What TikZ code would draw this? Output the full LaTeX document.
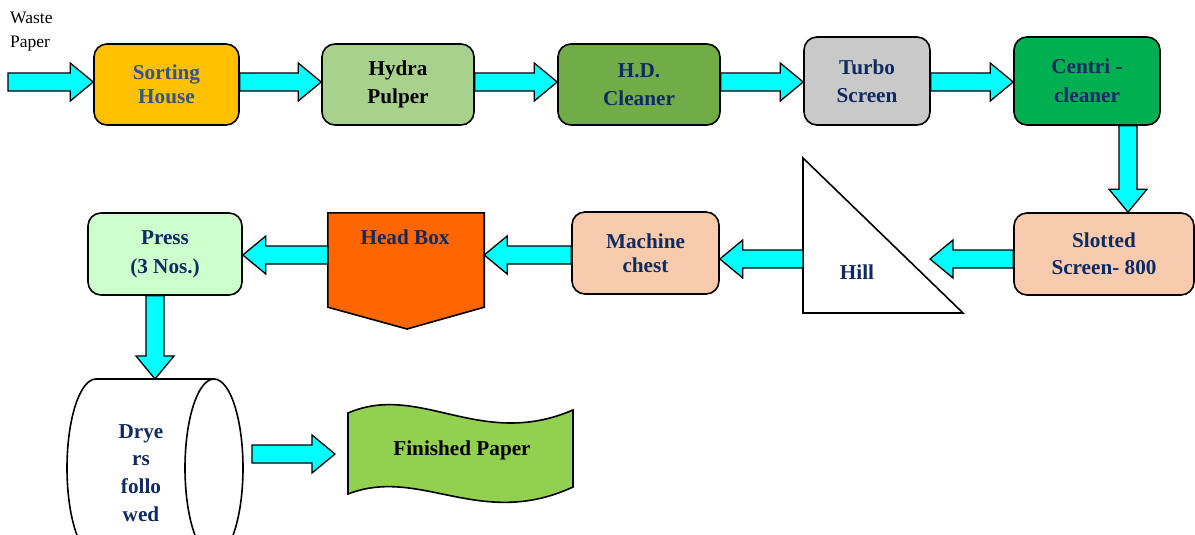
\documentclass[tikz,border=0pt]{standalone}
\usepackage{fontspec}
\setmainfont{Liberation Serif}
\usetikzlibrary{calc}
\definecolor{sortFill}{HTML}{FFC000}
\definecolor{hydraFill}{HTML}{A9D18E}
\definecolor{hdFill}{HTML}{70AD47}
\definecolor{turboFill}{HTML}{C9C9C9}
\definecolor{centriFill}{HTML}{00B050}
\definecolor{peachFill}{HTML}{F8CBAD}
\definecolor{headFill}{HTML}{FF6600}
\definecolor{pressFill}{HTML}{CCFFCC}
\definecolor{finFill}{HTML}{92D050}
\definecolor{arrFill}{HTML}{00FFFF}
\definecolor{navy}{HTML}{102A62}
\definecolor{steel}{HTML}{33558C}
\newcommand\blockarrow[2]{%
  \path ($(#2)!23pt!(#1)$) coordinate (baseP);
  \draw[arr] ($(#1)!9pt!90:(#2)$) -- ($(baseP)!9pt!-90:(#1)$) -- ($(baseP)!19pt!-90:(#1)$)
    -- (#2) -- ($(baseP)!19pt!90:(#1)$) -- ($(baseP)!9pt!90:(#1)$) -- ($(#1)!9pt!-90:(#2)$) -- cycle;}
\tikzset{
  arr/.style={draw=black, line width=1.3pt, fill=arrFill, line join=miter},
  procbox/.style={draw=black, line width=1.6pt, rounded corners=13pt, align=center,
    font=\fontsize{21.2}{24}\selectfont\bfseries, text=navy, inner sep=0pt},
  shapeline/.style={draw=black, line width=1.6pt},
  lbl/.style={font=\fontsize{21.2}{24}\selectfont\bfseries, text=navy, align=center, inner sep=0pt}
}
\begin{document}
\begin{tikzpicture}[x=1pt,y=-1pt]
\clip (0,0) rectangle (1195,535);
\fill[white] (0,0) rectangle (1195,535);
% nodes
\node[procbox, fill=sortFill, text=steel, minimum width=145pt, minimum height=81pt] (sort) at (166.5,84.5) {Sorting\\House};
\node[procbox, fill=hydraFill, text=black, minimum width=152pt, minimum height=81pt] (hydra) at (398,84.5) {Hydra\\[4pt]Pulper};
\node[procbox, fill=hdFill, minimum width=162pt, minimum height=81pt] (hd) at (639,84.5) {H.D.\\[4pt]Cleaner};
\node[procbox, fill=turboFill, minimum width=126pt, minimum height=88pt] (turbo) at (867,81) {Turbo\\[4pt]Screen};
\node[procbox, fill=centriFill, minimum width=146pt, minimum height=88pt] (centri) at (1087,81) {Centri -\\[5pt]cleaner};
\node[procbox, fill=peachFill, minimum width=180pt, minimum height=82pt] (slotted) at (1104,254) {Slotted\\[3pt]Screen- 800};
\node[procbox, fill=peachFill, minimum width=147pt, minimum height=82pt] (machine) at (645.5,253) {Machine\\chest};
\node[procbox, fill=pressFill, minimum width=154pt, minimum height=82pt] (press) at (165,254) {Press\\[5pt](3 Nos.)};
\node[font=\fontsize{17.5}{24}\selectfont, align=left, inner sep=0pt, anchor=north west] (waste) at (10,12) {Waste\\Paper};
% Hill
\draw[shapeline, fill=white] (803,158) -- (803,313) -- (963,313) -- cycle;
\node[lbl] (hill) at (857,272) {Hill};
\coordinate (hillW) at (803,259);
\coordinate (hillTip) at (930,259);
% Head box
\node[minimum width=156pt, minimum height=94pt, inner sep=0pt] (hb) at (406,260) {};
\draw[shapeline, fill=headFill] (hb.north west) -- (hb.north east) -- (hb.south east) -- (407,329) -- (hb.south west) -- cycle;
\node[lbl] (hbtext) at (405,237) {Head Box};
% Dryer cylinder
\draw[shapeline, fill=white] (214,379) -- (96,379) arc[start angle=-90, end angle=-270, x radius=29, y radius=89] -- (214,557);
\draw[shapeline, fill=white] (214,468) ellipse[x radius=29, y radius=89];
\node[lbl, font=\fontsize{21.2}{27.7}\selectfont\bfseries] (dryer) at (141,473) {Drye\\rs\\follo\\wed};
\coordinate (dryerTop) at (155,379);
\coordinate (dryerOut) at (252,454);
\coordinate (finIn) at (335,454);
% Finished paper
\draw[shapeline, fill=finFill] (348,413) .. controls (420,382) and (480,450) .. (573,410)
  -- (573,487) .. controls (480,530) and (420,466) .. (348,494) -- cycle;
\node[lbl, text=black] (fin) at (462,450) {Finished Paper};
% connectors
\coordinate (inStart) at (8,82);
\blockarrow{inStart}{[yshift=2.5pt]sort.west}
\blockarrow{[yshift=2.5pt]sort.east}{[yshift=2.5pt]hydra.west}
\blockarrow{[yshift=2.5pt]hydra.east}{[yshift=2.5pt]hd.west}
\blockarrow{[yshift=2.5pt]hd.east}{[yshift=-1pt]turbo.west}
\blockarrow{[yshift=-1pt]turbo.east}{[yshift=-1pt]centri.west}
\blockarrow{[xshift=41pt]centri.south}{[xshift=24pt]slotted.north}
\blockarrow{[yshift=-5pt]slotted.west}{hillTip}
\blockarrow{hillW}{[yshift=-6pt]machine.east}
\blockarrow{[yshift=-2pt]machine.west}{[yshift=5pt]hb.east}
\blockarrow{[yshift=5pt]hb.west}{[yshift=-1pt]press.east}
\blockarrow{[xshift=-10pt]press.south}{dryerTop}
\blockarrow{dryerOut}{finIn}
\end{tikzpicture}
\end{document}
